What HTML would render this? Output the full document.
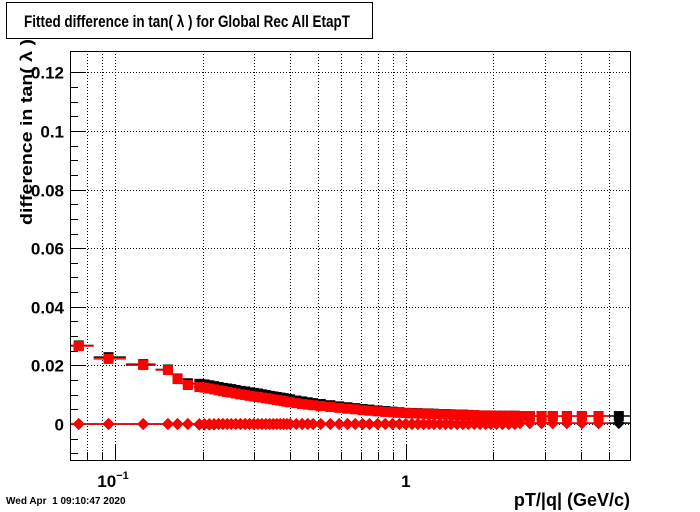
<!DOCTYPE html>
<html><head><meta charset="utf-8"><style>
body{margin:0;background:#fff}
svg{display:block;font-family:"Liberation Sans",Arial,sans-serif}
</style></head><body>
<svg id="c" width="700" height="512" viewBox="0 0 700 512">
<rect x="0" y="0" width="700" height="512" fill="#fff"/>
<rect x="6.5" y="2.5" width="366" height="36" fill="#fff" stroke="#000"/>
<text x="24" y="27" font-size="17" font-weight="bold" textLength="326" lengthAdjust="spacingAndGlyphs">Fitted difference in tan( λ ) for Global Rec All EtapT</text>
<g id="grid"></g>
<g id="axes"></g>
<g id="series"></g>
<rect x="70.5" y="51.5" width="560" height="409" fill="none" stroke="#000"/>
<text transform="translate(32,225) rotate(-90)" font-size="17" font-weight="bold" textLength="186" lengthAdjust="spacingAndGlyphs">difference in tan( λ )</text>
<text x="630" y="506" font-size="18" font-weight="bold" text-anchor="end">pT/|q| (GeV/c)</text>
<text x="6" y="504" font-size="10" font-weight="bold" style="white-space:pre">Wed Apr  1 09:10:47 2020</text>
</svg>
<script>
const ptCenters=[0.075,0.095,0.125,0.152,0.164,0.178,0.195,0.203,0.211,0.219,0.227,0.235,0.243,0.251,0.26,0.27,0.28,0.29,0.30,0.31,0.32,0.33,0.34,0.35,0.36,0.37,0.38,0.39,0.40,0.42,0.44,0.46,0.48,0.51,0.55,0.59,0.63,0.67,0.71,0.75,0.80,0.85,0.90,0.95,1.00,1.05,1.10,1.15,1.20,1.25,1.31,1.37,1.43,1.50,1.57,1.64,1.72,1.80,1.88,1.96,2.05,2.15,2.26,2.37,2.47,2.67,2.93,3.2,3.58,4.03,4.6,5.4];
const redMean=[0.0266,0.0222,0.0201,0.0184,0.0153,0.0133,0.0126,0.0124,0.0121,0.0118,0.0115,0.0112,0.0109,0.0107,0.0104,0.0101,0.0099,0.0096,0.0094,0.0092,0.0090,0.0088,0.0086,0.0084,0.0082,0.0080,0.0078,0.0076,0.0074,0.0071,0.0068,0.0066,0.0064,0.0061,0.0058,0.0055,0.0052,0.0050,0.0047,0.0045,0.0043,0.0041,0.0040,0.0038,0.0037,0.0036,0.0036,0.0035,0.0035,0.0034,0.0033,0.0033,0.0032,0.0031,0.0031,0.0030,0.0030,0.0029,0.0029,0.0029,0.0028,0.0028,0.0028,0.0028,0.0027,0.0027,0.0027,0.0027,0.0027,0.0027,0.0027,null];
const blackMean=[0.0268,0.0228,0.0204,0.0186,0.0155,0.0139,0.0137,0.0135,0.0132,0.0129,0.0126,0.0123,0.0121,0.0119,0.0116,0.0113,0.0111,0.0108,0.0106,0.0104,0.0101,0.0099,0.0096,0.0094,0.0092,0.0090,0.0088,0.0086,0.0084,0.0080,0.0077,0.0074,0.0071,0.0068,0.0064,0.0060,0.0057,0.0054,0.0051,0.0049,0.0046,0.0044,0.0042,0.0040,0.0038,0.0037,0.0037,0.0036,0.0036,0.0035,0.0034,0.0034,0.0033,0.0032,0.0032,0.0031,0.0030,0.0029,0.0029,0.0029,0.0028,0.0028,0.0028,0.0028,0.0027,0.0027,0.0027,0.0027,0.0027,0.0027,0.0027,0.0027];
const redOffset=[0,0,0,0,0,0,0,0,0,0,0,0,0,0,0,0,0,0,0,0,0,0,0,0,0,0,0,0,0,0,0,0,0,0,0,0,0,0,0,0,0,0,0,0,0,0,0,0,0,0,0,0,0,0,0,0,0,0,0,0,0,0,0,0,0.0003,0.0003,0.0003,0.0003,0.0003,0.0003,0.0003,null];
const blackOffset=[0,0,0,0,0,0,-0.0002,-0.0002,-0.0002,-0.0002,0,0,0,0,0,0,0,0,0,0,0,0,0,0,0,0,0,0,0,0,0,0,0,0,0,0,0,0,0,0,0,0,0,0,0,0,0,0,0,0,0,0,0,0,0,0,0,0,0,0,0,0,0,0,0.0003,0.0003,0.0003,0.0003,0.0003,0.0003,0.0003,0.0003];
const yTicks=[0,0.02,0.04,0.06,0.08,0.1,0.12];
const yTickLabels=["0","0.02","0.04","0.06","0.08","0.1","0.12"];
const xGrid=[0.08,0.09,0.1,0.2,0.3,0.4,0.5,0.6,0.7,0.8,0.9,1,2,3,4,5];

const NS="http://www.w3.org/2000/svg";
const X0=70,X1=630,Y0=460,Y1=51;
const xmin=0.07,xmax=5.9,ymin=-0.0123,ymax=0.1273;
function sx(v){return X0+(Math.log10(v)-Math.log10(xmin))/(Math.log10(xmax)-Math.log10(xmin))*(X1-X0);}
function sy(v){return Y0-(v-ymin)/(ymax-ymin)*(Y0-Y1);}
function mk(tag,attrs,parent){const e=document.createElementNS(NS,tag);for(const k in attrs)e.setAttribute(k,attrs[k]);parent.appendChild(e);return e;}
const grid=document.getElementById('grid'),axes=document.getElementById('axes'),ser=document.getElementById('series');

yTicks.forEach((t,i)=>{
  const y=Math.round(sy(t))+0.5;
  const g=mk('line',{x1:X0,x2:X1,y1:y,y2:y,stroke:'#000','stroke-dasharray':'1,2','stroke-width':1},grid);
  
  
  const tk=mk('line',{x1:X0,x2:X0+15,y1:y,y2:y,stroke:'#000'},axes);
  
  
  const lb=mk('text',{x:64,y:y+6,'font-size':17,'font-weight':'bold','text-anchor':'end'},axes);
  lb.textContent=yTickLabels[i];
  
  
});
for(let v=-0.01;v<=0.125;v+=0.005){
  if(Math.abs(v/0.02-Math.round(v/0.02))<1e-6)continue;
  const y=Math.round(sy(v))+0.5;
  const tk=mk('line',{x1:X0,x2:X0+8,y1:y,y2:y,stroke:'#000'},axes);
  
  
}
xGrid.forEach(t=>{
  const x=Math.round(sx(t))+0.5;
  const g=mk('line',{x1:x,x2:x,y1:Y1,y2:Y0,stroke:'#000','stroke-dasharray':'1,2'},grid);
  
  
  const major=(t===0.1||t===1);
  const tk=mk('line',{x1:x,x2:x,y1:Y0,y2:Y0-(major?15:8),stroke:'#000'},axes);
  
  
});
const l1=mk('text',{x:sx(0.1)-2,y:487,'font-size':17,'font-weight':'bold','text-anchor':'middle'},axes);
l1.innerHTML='10<tspan font-size="11" dy="-8">−1</tspan>';


const l2=mk('text',{x:sx(1),y:487,'font-size':17,'font-weight':'bold','text-anchor':'middle'},axes);
l2.textContent='1';



function edges(i){
  const c=ptCenters[i];
  const lo=i>0?Math.sqrt(ptCenters[i-1]*c):xmin;
  const hi=i<ptCenters.length-1?Math.sqrt(ptCenters[i+1]*c):xmax;
  return [Math.max(lo,xmin),Math.min(hi,xmax)];
}
function drawSeries(means,offs,color,name){
  ptCenters.forEach((p,i)=>{
    const [lo,hi]=edges(i);
    const cx=sx(p);
    if(offs[i]!==null){
      const yd=sy(offs[i]);
      const ln=mk('line',{x1:sx(lo),x2:sx(hi),y1:yd,y2:yd,stroke:color,'stroke-width':1.5},ser);
      
      
      const d=mk('polygon',{points:`${cx},${yd-6} ${cx+6},${yd} ${cx},${yd+6} ${cx-6},${yd}`,fill:color},ser);
      
      
    }
    if(means[i]!==null){
      const ym=sy(means[i]);
      const ln=mk('line',{x1:sx(lo),x2:sx(hi),y1:ym,y2:ym,stroke:color,'stroke-width':1.5},ser);
      
      
      const s=mk('rect',{x:cx-5,y:ym-5,width:10,height:10,fill:color},ser);
      
      
    }
  });
}
drawSeries(blackMean,blackOffset,'#000','black-series');
drawSeries(redMean,redOffset,'#ff0000','red-series');
</script>
</body></html>
